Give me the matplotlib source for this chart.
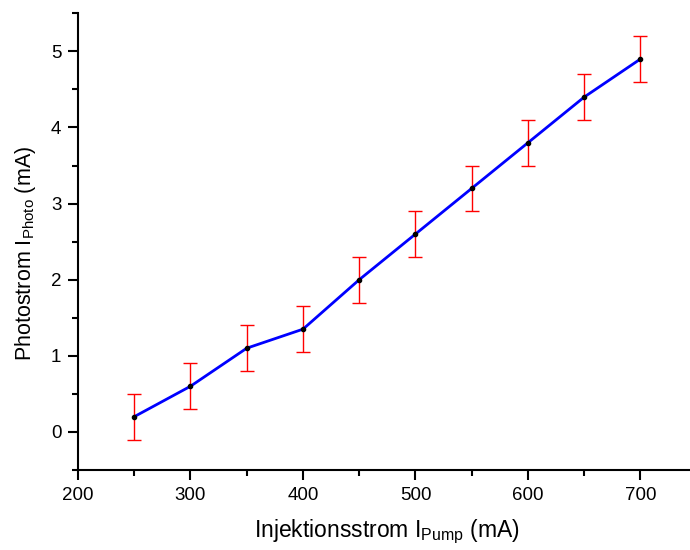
import matplotlib
matplotlib.use('Agg')

import matplotlib.pyplot as plt
from matplotlib.ticker import MultipleLocator

plt.rcParams['font.family'] = ['Liberation Sans', 'DejaVu Sans']
plt.rcParams['mathtext.fontset'] = 'custom'
plt.rcParams['mathtext.rm'] = 'Liberation Sans'
plt.rcParams['mathtext.it'] = 'Liberation Sans'

# Messwerte
pump_current = [250, 300, 350, 400, 450, 500, 550, 600, 650, 700]
photo_current = [0.2, 0.6, 1.1, 1.35, 2.0, 2.6, 3.2, 3.8, 4.4, 4.9]
photo_error = [0.3, 0.3, 0.3, 0.3, 0.3, 0.3, 0.3, 0.3, 0.3, 0.3]

fig = plt.figure(figsize=(6.9, 5.5), dpi=100)
ax = fig.add_axes([0.113, 0.1455, 0.887, 0.8303])

ax.errorbar(pump_current, photo_current, yerr=photo_error, fmt='none',
            ecolor='red', elinewidth=1.0, capsize=5, capthick=1.0, zorder=2)
ax.plot(pump_current, photo_current, color='blue', lw=2, zorder=3)
ax.plot(pump_current, photo_current, 'o', color='black', ms=3, zorder=4)

ax.set_xlim(200, 744)
ax.set_ylim(-0.5, 5.5)
ax.xaxis.set_major_locator(MultipleLocator(100))
ax.xaxis.set_minor_locator(MultipleLocator(50))
ax.yaxis.set_major_locator(MultipleLocator(1))
ax.yaxis.set_minor_locator(MultipleLocator(0.5))

for side in ['top', 'right']:
    ax.spines[side].set_visible(False)
for side in ['left', 'bottom']:
    ax.spines[side].set_linewidth(1.5)

ax.tick_params(which='major', direction='out', length=7, width=1.5, labelsize=13.5, pad=5)
ax.tick_params(which='minor', direction='out', length=4, width=1.5)

ax.set_xlabel(r'Injektionsstrom I$_{\mathrm{Pump}}$ (mA)', fontsize=16.5)
ax.set_ylabel(r'Photostrom I$_{\mathrm{Photo}}$ (mA)', fontsize=15.5)
ax.xaxis.set_label_coords(0.505, -0.104)
ax.yaxis.set_label_coords(-0.066, 0.475)

plt.savefig('out.png', dpi=100)
plt.close()
